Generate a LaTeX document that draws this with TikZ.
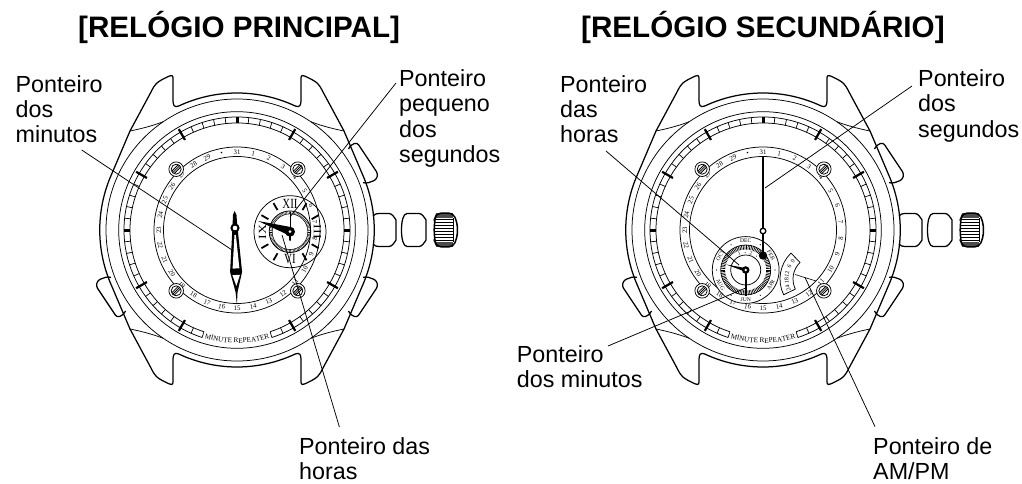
\documentclass[tikz,border=0pt]{standalone}
\usepackage{fontspec}
\setmainfont{Liberation Sans}
\newfontfamily\serf{Liberation Serif}
\usetikzlibrary{decorations.text}
\tikzset{
  x=1pt,y=1pt,
  lbl/.style={anchor=north west,align=left,inner sep=0pt,font=\fontsize{23.3}{25.4}\selectfont},
  ttl/.style={anchor=base west,inner sep=0pt,font=\fontsize{29.6}{32}\selectfont\bfseries},
  leader/.style={line width=.75pt},
  thickline/.style={line width=1.25pt,line join=round},
  thin1/.style={line width=.75pt},
  tiny1/.style={inner sep=0pt,font=\fontsize{6.8}{7}\selectfont\serf},
  rom/.style={inner sep=0pt,font=\fontsize{14}{14}\selectfont\serf,xscale=.78},
}
\newcommand{\quadrant}{%
  \draw[thickline] (90:137) arc[start angle=90,end angle=115.2,radius=137]
    .. controls (-63,122) and (-64,125) .. (-64,130) -- (-64,152)
    .. controls (-64,155) and (-66,155) .. (-68,153.8)
    .. controls (-73,151.5) and (-78,149) .. (-80,147)
    .. controls (-83,144) and (-84,142) .. (-86,138)
    -- (-107,99) -- (-127,52) arc[start angle=157.7,end angle=180,radius=137];
  \draw[thin1] (-107,99) .. controls (-97,101) and (-85,104) .. (-74,108.2);
}
\newcommand{\watchbase}{%
  \foreach \sx/\sy in {1/1,-1/1,1/-1,-1/-1}{\begin{scope}[xscale=\sx,yscale=\sy]\quadrant\end{scope}}
  % push buttons
  \foreach \sx/\sy in {1/1,1/-1,-1/-1}{
    \draw[thickline,rounded corners=2.6,xscale=\sx,yscale=\sy]
      (111.5,81) -- (114,85) -- (120,87.5) -- (141,56) -- (139,50) -- (129,46.5) -- (126,47.5);
  }
  % crown stem and crown
  \draw[thickline] (136,14) .. controls (138,16) and (139,16.5) .. (142,16.5) -- (152,16.5) .. controls (155,16.5) and (157,13) .. (159,10) -- (159,-10) .. controls (157,-13) and (155,-16.5) .. (152,-16.5) -- (142,-16.5) .. controls (139,-16.5) and (138,-16) .. (136,-14);
  \draw[thickline] (170,16.5) -- (182,16.5) .. controls (185,16.5) and (187,13) .. (189,10) -- (189,-10) .. controls (187,-13) and (185,-16.5) .. (182,-16.5) -- (170,-16.5) .. controls (166,-16.5) and (164.5,-8) .. (164.5,0) .. controls (164.5,8) and (166,16.5) .. (170,16.5) -- cycle;
  \fill[gray!60!black] (198.5,16.8) rectangle (216,12);
  \fill[gray!60!black] (198.5,-16.8) rectangle (216,-12);
  \foreach \v in {-10,-7,...,11}{\draw[line width=.6pt] (198,\v) -- (216,\v);}
  \draw[line width=1.5pt,rounded corners=4] (200,16.8) -- (198,12) -- (197,0) -- (198,-12) -- (200,-16.8) -- (216,-16.8) -- (220,-8) -- (220.5,0) -- (220,8) -- (216,16.8) -- cycle;
  \draw[line width=.8pt] (216,12) -- (216,-12);
  % concentric rings
  \draw[thin1] (0,0) circle[radius=131];
  \draw[thin1] (0,0) circle[radius=118.3];
  % minute track
  \draw[thin1] (-72:113) arc[start angle=-72,end angle=252,radius=113];
  \draw[thin1] (-72:107) arc[start angle=-72,end angle=252,radius=107];
  \foreach \a in {-72,-66,...,252}{\draw[line width=.7pt] (\a:107) -- (\a:113);}
  \foreach \a in {0,90,180}{\draw[line width=3pt] (\a:107) -- (\a:113);}
  \foreach \a in {30,60,120,150,210,240,300,330}{\draw[line width=2.2pt] (\a:104) -- (\a:116.5);}
  \path[decorate,decoration={text along path,text align=center,
     text={|\fontsize{7.2}{8}\selectfont\serf|MINUTE  REPEATER}}]
     (-110:113) arc[start angle=-110,end angle=-70,radius=113];
  % date ring
  \draw[thin1] (0,0) circle[radius=83];
  \draw[thin1] (0,0) circle[radius=73.5];
  \foreach \n in {1,...,31}{
    \pgfmathsetmacro\tt{\n<=15 ? 12*\n : 180+(\n-15)*11.25}
    \pgfmathsetmacro\rr{(\tt>90 && \tt<270) ? 180-\tt : -\tt}
    \node[tiny1,rotate=\rr] at ({90-\tt}:78.2) {\ifnum\n=30 \textbullet\else\n\fi};
  }
  % screws
  \foreach \a in {45,135,225,315}{
    \begin{scope}[shift={(\a:86)}]
      \draw[thin1,fill=white] (0,0) circle[radius=7.3];
      \draw[thin1,fill=white] (0,0) circle[radius=5];
      \foreach \o in {-1.7,0,1.7}{\draw[line width=.8pt] ({-3.4+\o*.7},{-3.4-\o*.7}) -- ({3.4+\o*.7},{3.4-\o*.7});}
    \end{scope}
  }
}
\begin{document}
\begin{tikzpicture}
\useasboundingbox (0,0) rectangle (1022,-484);
\fill[white] (0,0) rectangle (1022,-484);
% ---------- left watch
\begin{scope}[shift={(237,-230)}] \watchbase \end{scope}
\begin{scope}[shift={(290,-231.7)}]
  \draw[thin1] (0,0) circle[radius=36];
  \draw[thin1] (0,0) circle[radius=20.8];
  \draw[line width=.5pt] (0,0) circle[radius=17.8];
  \foreach \a in {0,4,...,356}{\draw[line width=.4pt] (\a:17.8) -- (\a:20.8);}
  \foreach \a in {30,60,120,150,210,240,300,330}{\draw[line width=1.8pt] (\a:25) -- (\a:33);}
  \node[rom] at (90:27.5) {XII};
  \node[rom,rotate=-90] at (0:27.5) {III};
  \node[rom] at (-90:27.5) {VI};
  \node[rom,rotate=90] at (180:27.5) {IX};
  \draw[line width=.7pt] (0,0) -- (0,19.5);
  \draw[line width=1.1pt] (0,0) -- (0,-8);
  \fill (0,-8.2) circle[radius=1.1];
  \fill (-32,10.7) -- (-1,5) -- (1,-4.5) -- cycle;
  \fill (0,0) circle[radius=5];
  \fill[white] (0,0) circle[radius=1.5];
\end{scope}
\begin{scope}[shift={(235,-228)},rotate=1.4]
  \fill[line join=round] (0,17) -- (1.8,13) -- (2.3,3) -- (2.8,-3) -- (6,-44) -- (1,-64) -- (0,-77) -- (-1,-64) -- (-6,-44) -- (-2.8,-3) -- (-2.3,3) -- (-1.8,13) -- cycle;
  \fill (0,0) circle[radius=4.6];
  \fill[white] (0,0) circle[radius=2.3];
  \fill[white] (-.7,-7) -- (.7,-7) -- (3.4,-40.5) -- (-3.4,-40.5) -- cycle;
  \fill[white] (-3.8,-47) -- (3.8,-47) -- (0,-58) -- cycle;
\end{scope}
% ---------- right watch
\begin{scope}[shift={(763,-230)}] \watchbase \end{scope}
\begin{scope}[shift={(745.7,-270)}]
  \draw[thin1,fill=white] (0,0) circle[radius=33.4];
  \draw[thin1] (0,0) circle[radius=15];
  \draw[line width=.7pt] (0,0) circle[radius=25];
  \foreach \a in {0,4,...,356}{\draw[line width=.7pt] (\a:20.5) -- (\a:25);}
  \foreach \lab/\t in {DEC/0,FEB/60,APR/120,JUN/180,AUG/240,OCT/300}{
    \pgfmathsetmacro\rr{(\t>90 && \t<270) ? 180-\t : -\t}
    \node[tiny1,rotate=\rr,font=\fontsize{5.6}{6}\selectfont\serf] at ({90-\t}:29.2) {\lab};
  }
  \foreach \t in {30,90,150,210,270,330}{\fill ({90-\t}:29.2) circle[radius=.6];}
  \foreach \lab/\t in {1/-22,2/18}{\node[tiny1,font=\fontsize{5.2}{6}\selectfont\serf,rotate=-\t] at ({90-\t}:17.5) {\lab};}
  \foreach \t in {-2,38}{\fill ({90-\t}:17.5) circle[radius=.5];}
\end{scope}
\coordinate (sc) at (763,-231);
\draw[line width=1.6pt] (763,-157) -- (763,-228);
\draw[line width=1.6pt] (763,-234) -- (763,-252);
\fill (763,-255.5) circle[radius=4.2];
\draw[line width=1.3pt,fill=white] (sc) circle[radius=2.8];
\begin{scope}[shift={(745.7,-270)}]
  \fill (-19.5,5.5) -- (-.5,2) -- (.5,-2) -- cycle;
  \draw[line width=1.8pt] (0,0) -- (0,-26);
  \fill (0,0) circle[radius=3.8];
  \fill[white] (0,0) circle[radius=1.4];
\end{scope}
% AM/PM sub-dial
\begin{scope}[shift={(816,-279)}]
  \draw[thin1,line join=round] (134:36) arc[start angle=134,end angle=206,radius=36] -- (206:23) arc[start angle=206,end angle=134,radius=23] -- cycle;
  \foreach \lab/\t in {24/198,18/184,12/170,6/155,0/142}{
    \pgfmathsetmacro\rr{\t-90}
    \node[tiny1,rotate=\rr,font=\fontsize{6}{6}\selectfont\serf] at (\t:29.5) {\lab};
  }
\end{scope}
\coordinate (ampmP) at (816,-281);
\coordinate (ampmT) at (795,-274.5);
\draw[line width=.6pt] (ampmP) -- (ampmT);
% ---------- titles
\node[ttl] (t1) at (78,-38) {[RELÓGIO PRINCIPAL]};
\node[ttl] (t2) at (581,-38) {[RELÓGIO SECUNDÁRIO]};
% ---------- labels and leaders
\node[lbl] (a) at (15.5,-75) {Ponteiro\\dos\\minutos};
\node[lbl] (b) at (399,-69.3) {Ponteiro\\pequeno\\dos\\segundos};
\node[lbl] (c) at (299,-437) {Ponteiro das\\horas};
\node[lbl] (d) at (560,-75) {Ponteiro\\das\\horas};
\node[lbl] (e) at (918,-69.3) {Ponteiro\\dos\\segundos};
\node[lbl] (f) at (516.7,-345) {Ponteiro\\dos minutos};
\node[lbl] (g) at (873,-437) {Ponteiro de\\AM/PM};
\coordinate (a1) at (81.7,-150);\coordinate (a2) at (232,-250);
\coordinate (b1) at (396,-83);\coordinate (b2) at (290,-217);
\coordinate (c1) at (339.4,-427);\coordinate (c2) at (282,-235);
\coordinate (d1) at (606,-151);\coordinate (d2) at (739,-265);
\coordinate (e1) at (912,-86);\coordinate (e2) at (765,-188);
\coordinate (f1) at (608,-346);\coordinate (f2) at (745.7,-288);
\coordinate (g1) at (875,-426.7);\coordinate (g2) at (805,-277.5);
\foreach \p/\q in {a1/a2,b1/b2,c1/c2,d1/d2,e1/e2,f1/f2,g1/g2}{\draw[leader] (\p) -- (\q);}
\end{tikzpicture}
\end{document}
